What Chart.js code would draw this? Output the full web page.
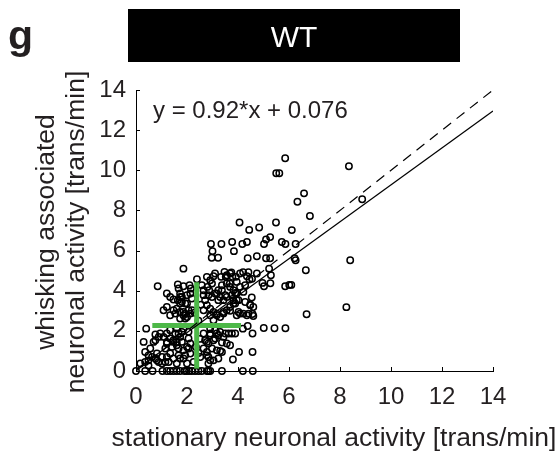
<!DOCTYPE html>
<html><head><meta charset="utf-8">
<script src="https://cdn.jsdelivr.net/npm/chart.js@4/dist/chart.umd.min.js"></script>
<style>html,body{margin:0;padding:0;background:#fff}#wrap{position:relative;width:560px;height:459px}</style>
</head><body><div id="wrap"><canvas id="c" width="560" height="459"></canvas></div>
<script>
// x: stationary activity, y: whisking associated activity (trans/min)
const cellPoints = [
[5.85,10.6],[5.5,9.85],[5.62,9.85],[8.35,10.2],[6.59,8.85],[6.33,8.43],[8.87,8.56],[6.82,7.72],[5.49,7.4],[4.06,7.4],[4.44,7.03],[4.83,7.15],[6.11,7.02],
[2.94,6.33],[3.35,6.33],[3.77,6.43],[4.17,6.33],[4.35,6.43],[5.02,6.33],[5.1,6.55],[5.26,6.67],[5.72,6.43],[5.86,6.33],[6.26,6.33],
[3.0,5.97],[2.97,5.64],[3.22,5.64],[3.84,5.97],[4.38,5.62],[4.74,5.72],[5.1,5.62],[5.26,5.62],[6.22,5.62],[6.26,5.52],[8.4,5.52],
[1.86,5.1],[5.22,5.1],[5.29,4.77],[4.55,4.59],[6.66,5.02],
[4.96,4.39],[5.02,4.22],[5.27,4.37],[5.85,4.22],[6.01,4.29],[6.09,4.29],
[4.54,3.66],[4.48,3.31],[8.25,3.18],[4.57,2.84],[4.6,2.74],[6.69,2.83],
[5.01,2.14],[5.43,2.13],[5.86,2.13],[4.57,1.87],[3.37,1.42],[3.37,0.95],[4.04,0.95],[4.57,0.95],[3.8,0.57],
[0,0],[0.36,0],[0.65,0],[1.04,0],[1.21,0],[1.34,0],[1.47,0],[1.6,0],[1.73,0],[1.9,0],[1.99,0],[2.08,0],[2.19,0],[2.32,0],[2.45,0],[2.58,0],[2.78,0],[2.84,0],[2.91,0],[3.37,0],[4.19,0],[4.58,0],
[3.47,4.94],[3.74,4.91],[4.2,4.92],[4.41,4.92],[3.34,4.69],[3.52,4.69],[3.78,4.69],[3.92,4.69],[3.68,4.36],[3.95,4.44],[4.08,4.19],[4.28,4.27],[4.45,4.56],
[4.21,3.94],[3.89,3.89],[3.76,3.78],[4.02,3.53],[4.28,3.44],[4.48,3.28],[3.69,3.19],[3.82,3.53],[3.5,3.78],[3.37,4.02],
[0.85,4.22],[1.64,4.31],[2.39,4.57],[1.86,4.22],[2.1,4.27],[2.15,4.11],[2.78,4.69],[2.91,4.52],[2.98,4.36],[2.8,4.19],[2.58,4.27],[2.65,4.02],[2.65,3.78],[2.71,3.53],[2.87,4.02],[3.1,4.86],[3.56,4.77],[3.69,4.86],
[1.47,3.56],[1.64,3.53],[1.73,3.69],[1.8,3.44],[1.93,3.36],[2.0,3.78],[2.13,3.86],[2.19,3.61],[3.17,3.86],[3.3,3.69],[3.43,3.53],[3.23,3.53],[3.56,3.69],
[0.4,2.11],[0.76,1.82],[0.3,1.45],[0.69,1.45],[0.36,0.95],[0.49,0.78],[0.63,0.7],[0.76,0.62],[0.36,0.45],[0.17,0.37],[0.49,0.28],[0.89,0.45],[1.02,0.37],[1.15,0.45],
[1.34,2.78],[1.54,2.86],[1.73,2.94],[1.86,2.78],[2.0,2.69],[1.73,2.61],[1.93,2.86],[2.19,3.03],[2.65,3.03],[2.91,2.78],[3.17,2.86],[3.43,2.94],[3.3,2.69],[3.04,2.53],
[0.95,1.87],[1.08,1.7],[1.21,1.87],[1.34,1.62],[1.47,1.53],[1.6,1.45],[1.21,1.37],[1.41,1.2],[1.67,1.12],[1.86,1.03],[2.06,1.12],[2.13,0.87],[1.93,0.78],[1.73,0.62],[1.47,0.62],[1.28,0.45],[1.6,0.37],[2.0,0.37],[2.26,0.45],[2.52,0.7],[2.78,0.78],[2.84,0.37],[3.04,0.53],[3.23,0.62],[3.17,1.03],[3.04,1.53],[2.78,1.45],[2.65,1.87],[2.91,1.87],[3.17,1.87],[3.3,1.95],[3.56,1.37],
[3.89,1.87],[3.76,1.87],[3.63,1.87],[3.5,1.87],[4.6,3.19],[4.41,2.86],[4.35,2.78],[4.08,2.86],[3.95,2.78],[4.02,2.94],[4.21,2.86],[3.89,3.36],[3.69,3.0],[3.56,3.03],[4.38,2.24],[4.19,2.11],
[3.04,4.72],[4.08,4.86],[4.35,4.72],[4.74,4.86],
[3.3,1.0],[2.98,1.12],[2.84,0.7],[2.91,0.53],
[0.49,0.53],[0.82,0.87],[0.56,1.12],[0.76,1.53],[0.89,1.7],[1.21,1.45],[1.15,1.12],
[1.47,1.45],[1.6,1.28],[1.34,0.87],[1.67,0.78],[1.86,0.62],[1.21,0.7],[1.02,0.7],[0.82,0.53],
[2.06,1.62],[2.13,1.37],[2.0,1.2],[1.8,1.45],[1.73,1.7],[1.67,1.87],
[2.71,1.53],[2.84,1.37],[2.65,1.12],[2.78,0.95],[2.91,1.78],[3.1,1.62],[3.23,1.78],[3.43,1.7],[3.69,1.28],
[1.34,2.03],[1.54,1.87],[1.8,1.95],[1.86,2.11],[1.6,2.11],[2.06,1.95],[2.91,2.11],[3.1,2.03],
[1.08,3.03],[1.21,3.19],[1.47,3.03],[1.6,3.11],[1.86,2.94],[1.93,2.61],[2.06,3.03],[2.13,2.86],[2.0,3.36],[1.73,3.36],[1.34,3.69],[1.21,3.86],
[1.73,3.86],[1.67,4.11],[1.8,3.69],
[2.78,3.28],[2.91,3.11],[3.04,2.94],[3.17,2.78],[3.43,2.86],[3.82,3.36],[3.95,3.53],[3.95,3.86],[3.82,4.02],[3.69,4.19],[3.56,4.36],[3.37,4.27],[3.23,4.02],[3.1,3.86],[2.98,3.69],[2.84,3.78],
[2.45,2.5],[2.5,1.6],[2.3,2.9],[2.55,3.3],[2.35,1.2],[2.45,0.9]
];
const fitSlope = 0.92;
const fitIntercept = 0.076;
const axisRange = [0, 14];
const tickValues = [0, 2, 4, 6, 8, 10, 12, 14];
const meanX = 2.38, sdX = 1.74;
const meanY = 2.27, sdY = 2.15;
const panelLetter = 'g';
const panelTitle = 'WT';
const equationText = 'y = 0.92*x + 0.076';
const xTitle = 'stationary neuronal activity [trans/min]';
const yTitleLines = ['whisking associated', 'neuronal activity [trans/min]'];

const FONT = '"Liberation Sans", Arial, sans-serif';
const TXT = '#231f20';

const decor = {
  id: 'decor',
  afterDraw(chart) {
    const ctx = chart.ctx;
    const xs = chart.scales.x, ys = chart.scales.y;
    ctx.save();
    // inward ticks
    ctx.strokeStyle = '#000'; ctx.lineWidth = 1;
    tickValues.forEach(v => {
      const px = Math.round(xs.getPixelForValue(v)) + 0.5;
      ctx.beginPath(); ctx.moveTo(px, ys.bottom); ctx.lineTo(px, ys.bottom - 4); ctx.stroke();
      const py = Math.round(ys.getPixelForValue(v)) + 0.5;
      ctx.beginPath(); ctx.moveTo(xs.left, py); ctx.lineTo(xs.left + 4, py); ctx.stroke();
    });
    // title box
    ctx.fillStyle = '#000';
    ctx.fillRect(128, 9, 332, 53);
    ctx.fillStyle = '#fff';
    ctx.font = '30px ' + FONT;
    ctx.textAlign = 'center'; ctx.textBaseline = 'alphabetic';
    ctx.fillText(panelTitle, 294, 47);
    // panel letter
    ctx.fillStyle = TXT;
    ctx.font = 'bold 41px ' + FONT;
    ctx.textAlign = 'left';
    ctx.fillText(panelLetter, 8, 49);
    // equation
    ctx.font = '24px ' + FONT;
    ctx.fillText(equationText, 153, 118);
    // x title
    ctx.font = '26.5px ' + FONT;
    ctx.textAlign = 'center';
    ctx.fillText(xTitle, 334, 446);
    // y title
    ctx.font = '26.5px ' + FONT;
    ctx.translate(0, 232);
    ctx.rotate(-Math.PI / 2);
    ctx.fillText(yTitleLines[0], 0, 54);
    ctx.fillText(yTitleLines[1], 0, 84);
    ctx.restore();
  }
};

new Chart(document.getElementById('c'), {
  type: 'scatter',
  data: {
    datasets: [
      {
        label: 'cells',
        data: cellPoints.map(p => ({x: p[0], y: p[1]})),
        pointStyle: 'circle', pointRadius: 3.2, borderWidth: 1.5,
        borderColor: '#000', backgroundColor: 'rgba(0,0,0,0)',
        clip: false, order: 3
      },
      {
        type: 'line', label: 'sdX',
        data: [{x: meanX - sdX, y: meanY}, {x: meanX + sdX, y: meanY}],
        borderColor: '#4db848', borderWidth: 5, pointRadius: 0, order: 2
      },
      {
        type: 'line', label: 'sdY',
        data: [{x: meanX, y: meanY - sdY}, {x: meanX, y: meanY + sdY}],
        borderColor: '#4db848', borderWidth: 5, pointRadius: 0, order: 2
      },
      {
        type: 'line', label: 'identity',
        data: [{x: axisRange[0], y: axisRange[0]}, {x: axisRange[1], y: axisRange[1]}],
        borderColor: '#000', borderWidth: 1.2, borderDash: [10, 7], pointRadius: 0, order: 1
      },
      {
        type: 'line', label: 'fit',
        data: [{x: axisRange[0], y: fitIntercept + fitSlope * axisRange[0]}, {x: axisRange[1], y: fitIntercept + fitSlope * axisRange[1]}],
        borderColor: '#000', borderWidth: 1.3, pointRadius: 0, order: 1
      }
    ]
  },
  options: {
    responsive: false, animation: false, devicePixelRatio: 1,
    layout: {padding: {left: 0, right: 67, top: 90, bottom: 0}},
    plugins: {legend: {display: false}, tooltip: {enabled: false}, title: {display: false}},
    scales: {
      x: {
        type: 'linear', min: axisRange[0], max: axisRange[1],
        afterFit: s => { s.height = 88; },
        afterBuildTicks: s => { s.ticks = tickValues.map(v => ({value: v})); },
        grid: {display: false, drawTicks: false},
        border: {display: true, color: '#000', width: 1},
        ticks: {padding: 12, color: TXT, font: {family: FONT, size: 24}, maxRotation: 0}
      },
      y: {
        type: 'linear', min: axisRange[0], max: axisRange[1],
        afterFit: s => { s.width = 136; },
        afterBuildTicks: s => { s.ticks = tickValues.map(v => ({value: v})); },
        grid: {display: false, drawTicks: false},
        border: {display: true, color: '#000', width: 1},
        ticks: {padding: 10, color: TXT, font: {family: FONT, size: 24}}
      }
    }
  },
  plugins: [decor]
});
</script></body></html>
